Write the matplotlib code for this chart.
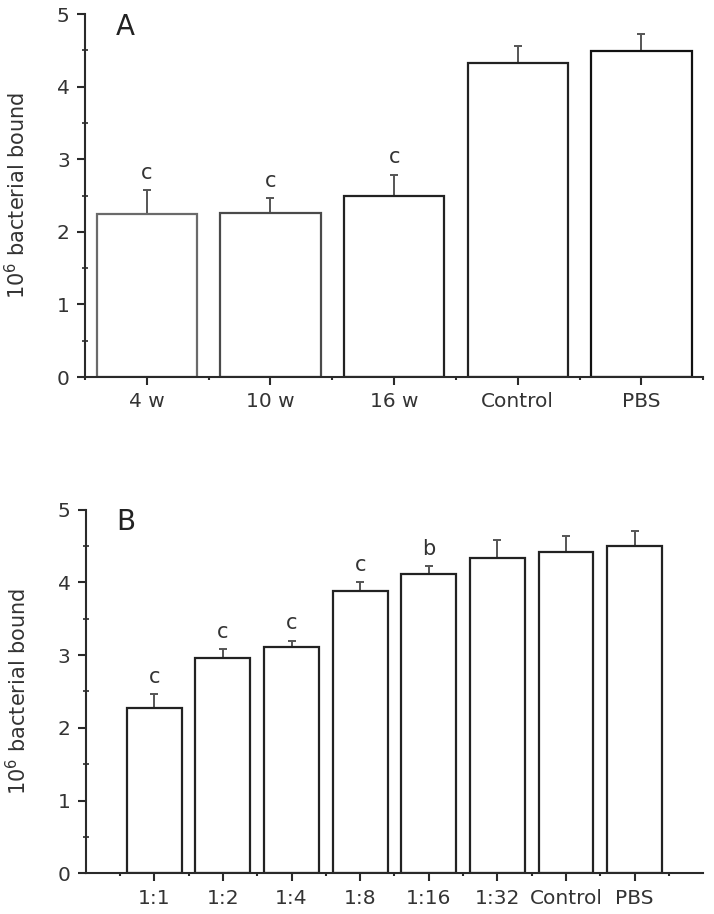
import numpy as np
import matplotlib
matplotlib.use("Agg")
import matplotlib.pyplot as plt
from matplotlib.ticker import MultipleLocator

# panel A
groups_a = ["4 w", "10 w", "16 w", "Control", "PBS"]
means_a = [2.24, 2.26, 2.50, 4.33, 4.49]
err_a = [0.34, 0.21, 0.29, 0.23, 0.24]
sig_a = ["c", "c", "c", "", ""]

# panel B
groups_b = ["1:1", "1:2", "1:4", "1:8", "1:16", "1:32", "Control", "PBS"]
means_b = [2.27, 2.96, 3.11, 3.88, 4.11, 4.34, 4.41, 4.50]
err_b = [0.20, 0.12, 0.09, 0.12, 0.11, 0.24, 0.22, 0.21]
sig_b = ["c", "c", "c", "c", "b", "", "", ""]

plt.rcParams["font.family"] = ["DejaVu Sans"]
txt = "#333333"
ln = "#2a2a2a"

fig = plt.figure(figsize=(7.14, 9.14), dpi=100)


def draw(ax, groups, means, err, sig, width, xlim, letter, edgecols):
    x = np.arange(len(groups))
    ax.bar(x, means, width=width, color="white", edgecolor=edgecols,
           linewidth=1.6, zorder=2)
    ax.errorbar(x, means, yerr=[np.zeros(len(err)), err], fmt="none",
                ecolor="#555555", elinewidth=1.4, capsize=3, capthick=1.4,
                zorder=1)
    for xi, m, e, s in zip(x, means, err, sig):
        if s:
            ax.annotate(s, (xi, m + e), xytext=(0, 8), textcoords="offset points",
                        ha="center", va="baseline", fontsize=15, color=txt)
    ax.set_xlim(*xlim)
    ax.set_ylim(0, 5)
    ax.set_xticks(x)
    ax.set_xticklabels(groups)
    ax.xaxis.set_minor_locator(MultipleLocator(1, offset=0.5))
    ax.yaxis.set_major_locator(MultipleLocator(1))
    ax.yaxis.set_minor_locator(MultipleLocator(0.5))
    for s in ["top", "right"]:
        ax.spines[s].set_visible(False)
    for s in ["left", "bottom"]:
        ax.spines[s].set_color(ln)
        ax.spines[s].set_linewidth(1.5)
    ax.tick_params(axis="both", which="major", labelsize=14.5, colors=ln,
                   labelcolor=txt, width=1.5, length=6, pad=5)
    ax.tick_params(axis="y", which="minor", direction="inout", length=4,
                   width=1.2, colors=ln)
    ax.tick_params(axis="x", which="minor", direction="out", length=2.5,
                   width=1.5, colors=ln)
    ax.set_ylabel("10$^6$ bacterial bound", fontsize=15, color=txt, labelpad=20)
    ax.text(0.05, 0.965, letter, transform=ax.transAxes, fontsize=20,
            color="#222222", ha="left", va="center")


ax_a = fig.add_axes([0.119, 0.5875, 0.866, 0.397])
draw(ax_a, groups_a, means_a, err_a, sig_a, 0.81, (-0.5, 4.5), "A",
     ["#6a6a6a", "#4a4a4a", "#222222", "#222222", "#111111"])

ax_b = fig.add_axes([0.120, 0.0445, 0.865, 0.398])
draw(ax_b, groups_b, means_b, err_b, sig_b, 0.80, (-1, 8), "B",
     ["#222222"] * len(groups_b))

fig.savefig("out.png", dpi=100)
